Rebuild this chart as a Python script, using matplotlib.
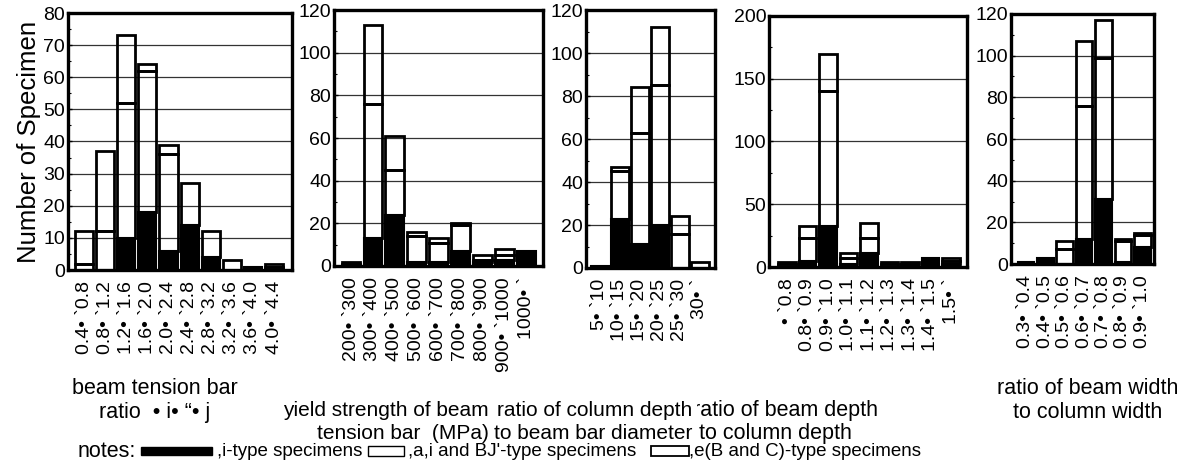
import matplotlib
matplotlib.use("Agg")
from matplotlib import pyplot as plt
from matplotlib.patches import Rectangle
from matplotlib.ticker import MultipleLocator

plt.rcParams["font.family"] = ["Liberation Sans", "DejaVu Sans"]

# beam tension bar ratio
labels1 = ["0.4• `0.8", "0.8• `1.2", "1.2• `1.6", "1.6• `2.0", "2.0• `2.4",
           "2.4• `2.8", "2.8• `3.2", "3.2• `3.6", "3.6• `4.0", "4.0• `4.4"]
j1 = [0, 0, 10, 18, 6, 14, 4, 0, 1, 0]
m1 = [2, 12, 42, 44, 30, 13, 8, 3, 0, 1]
t1 = [10, 25, 21, 2, 3, 0, 0, 0, 0, 1]

# yield strength of beam tension bar
labels2 = ["200• `300", "300• `400", "400• `500", "500• `600", "600• `700",
           "700• `800", "800• `900", "900• `1000", "1000• `"]
j2 = [0, 13, 24, 2, 2, 7, 2, 3, 7]
m2 = [1, 63, 21, 12, 9, 12, 1, 2, 0]
t2 = [1, 37, 16, 2, 2, 1, 2, 3, 0]

# column depth / beam bar diameter
labels3 = ["5• `10", "10• `15", "15• `20", "20• `25", "25• `30", "30• `"]
j3 = [1, 23, 11, 20, 0, 0]
m3 = [0, 22, 52, 65, 16, 3]
t3 = [0, 2, 21, 27, 8, 0]

# beam depth / column depth
labels4 = ["• `0.8", "0.8• `0.9", "0.9• `1.0", "1.0• `1.1", "1.1• `1.2",
           "1.2• `1.3", "1.3• `1.4", "1.4• `1.5", "1.5• `"]
j4 = [0, 5, 33, 2, 11, 0, 2, 7, 2]
m4 = [2, 18, 107, 5, 12, 2, 0, 0, 3]
t4 = [2, 10, 30, 4, 12, 2, 2, 0, 2]

# beam width / column width
labels5 = ["0.3• `0.4", "0.4• `0.5", "0.5• `0.6", "0.6• `0.7", "0.7• `0.8",
           "0.8• `0.9", "0.9• `1.0"]
j5 = [1, 3, 0, 12, 31, 1, 8]
m5 = [0, 0, 7, 64, 68, 10, 6]
t5 = [0, 0, 4, 31, 18, 1, 1]

W, H = 1202, 461
fig = plt.figure(figsize=(W / 100, H / 100), dpi=100)


def px_axes(x0, x1, y0, y1):
    return fig.add_axes([x0 / W, 1 - y1 / H, (x1 - x0) / W, (y1 - y0) / H])


def hist_panel(ax, labels, j, m, t, ymax, step, xlim):
    x = list(range(len(labels)))
    wd = 0.86
    for i in x:
        if j[i] > 0:
            ax.bar(i, j[i], wd, color="black", edgecolor="black", lw=1.5, zorder=3)
        if m[i] > 0:
            ax.bar(i, m[i], wd, bottom=j[i], facecolor="none",
                   edgecolor="black", lw=2, zorder=3)
        if t[i] > 0:
            ax.bar(i, t[i], wd, bottom=j[i] + m[i], facecolor="none",
                   edgecolor="black", lw=2, zorder=3)
    ax.set_xlim(*xlim)
    ax.set_ylim(0, ymax)
    ax.yaxis.set_major_locator(MultipleLocator(step))
    ax.yaxis.set_minor_locator(MultipleLocator(step / 2))
    ax.grid(axis="y", color="#333333", lw=0.9, zorder=1)
    ax.set_xticks(x)
    ax.set_xticklabels(labels, rotation=90, fontsize=14, va="top")
    ax.tick_params(axis="x", length=0, pad=8)
    ax.tick_params(axis="y", which="major", direction="in", length=3,
                   width=1, labelsize=14, pad=2)
    ax.tick_params(axis="y", which="minor", direction="in", length=2, width=0.8)
    for s in ax.spines.values():
        s.set_linewidth(2.4)


ax1 = px_axes(68, 292, 13, 270)
hist_panel(ax1, labels1, j1, m1, t1, 80, 10, (-0.76, 9.85))
ax1.set_ylabel("Number of Specimen", fontsize=18.5, labelpad=2)

ax2 = px_axes(334, 543, 10, 266)
hist_panel(ax2, labels2, j2, m2, t2, 120, 20, (-0.78, 8.77))

ax3 = px_axes(586, 715, 10, 268)
hist_panel(ax3, labels3, j3, m3, t3, 120, 20, (-0.7, 5.75))

ax4 = px_axes(769, 967, 16, 267)
hist_panel(ax4, labels4, j4, m4, t4, 200, 50, (-0.88, 8.78))

ax5 = px_axes(1011, 1154, 14, 264)
hist_panel(ax5, labels5, j5, m5, t5, 120, 20, (-0.77, 6.6))

# axis titles under each panel
fs = 15.5
mfs = 15
fig.text(155 / W, 1 - 388 / H, "beam tension bar", ha="center", va="center", fontsize=fs)
fig.text(155 / W, 1 - 412 / H, "ratio  • i• “• j", ha="center", va="center", fontsize=fs)
fig.text(489 / W, 1 - 410 / H, "yield strength of beam", ha="right", va="center", fontsize=mfs)
fig.text(489 / W, 1 - 433 / H, "tension bar  (MPa)", ha="right", va="center", fontsize=mfs)
fig.text(692 / W, 1 - 410 / H, "ratio of column depth", ha="right", va="center", fontsize=mfs)
fig.text(692 / W, 1 - 433 / H, "to beam bar diameter", ha="right", va="center", fontsize=mfs)
fig.text(693 / W, 1 - 410 / H, "ratio of beam depth", ha="left", va="center",
         fontsize=fs, zorder=4)
# the column-depth title box hides the stem of the next "r"
fig.patches.append(Rectangle((692.5 / W, 1 - 422 / H), 4 / W, 22 / H,
                             facecolor="white", edgecolor="none", zorder=5,
                             transform=fig.transFigure, figure=fig))
fig.text(699 / W, 1 - 433 / H, "to column depth", ha="left", va="center", fontsize=fs)
fig.text(1088 / W, 1 - 388 / H, "ratio of beam width", ha="center", va="center", fontsize=fs)
fig.text(1088 / W, 1 - 412 / H, "to column width", ha="center", va="center", fontsize=fs)

# notes line
nfs = 13.5
ny = 1 - 451 / H
fig.text(78 / W, ny, "notes:", ha="left", va="center", fontsize=fs)
fig.patches.append(Rectangle((141 / W, 1 - 455 / H), 71 / W, 8 / H,
                             facecolor="black", edgecolor="black",
                             transform=fig.transFigure, figure=fig))
fig.text(217 / W, ny, ",i-type specimens", ha="left", va="center", fontsize=nfs)
fig.patches.append(Rectangle((368 / W, 1 - 456 / H), 36 / W, 10 / H,
                             facecolor="white", edgecolor="black", lw=1,
                             transform=fig.transFigure, figure=fig))
fig.text(408 / W, ny, ",a,i and BJ'-type specimens", ha="left", va="center", fontsize=nfs)
fig.patches.append(Rectangle((651 / W, 1 - 456 / H), 38 / W, 10 / H,
                             facecolor="white", edgecolor="black", lw=1.3,
                             transform=fig.transFigure, figure=fig))
fig.text(689 / W, ny, ",e(B and C)-type specimens", ha="left", va="center", fontsize=nfs)

plt.savefig("out.png", dpi=100)
